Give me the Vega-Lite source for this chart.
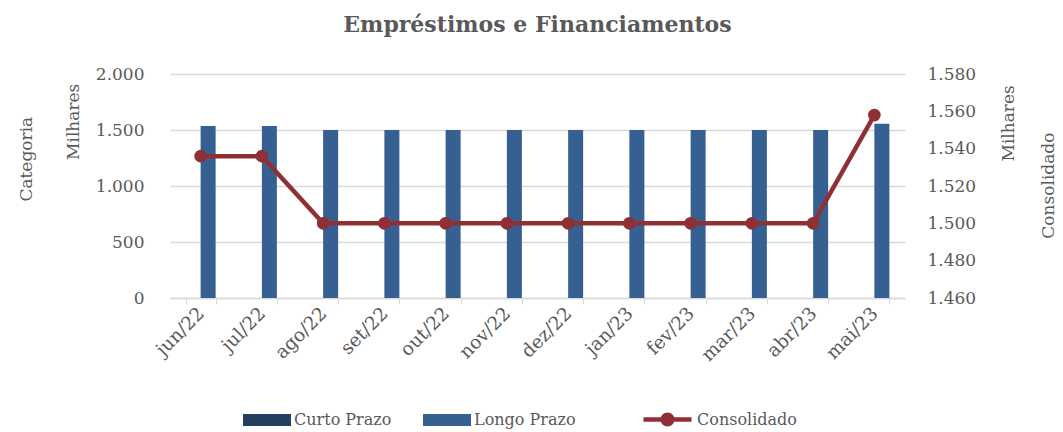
{
  "$schema": "https://vega.github.io/schema/vega-lite/v6.json",
  "autosize": {"type": "none"},
  "width": 735,
  "height": 224,
  "padding": {"left": 170, "top": 74, "right": 158, "bottom": 134},
  "background": "white",
  "config": {
    "locale": {"number": {"decimal": ",", "thousands": ".", "grouping": [3], "currency": ["R$", ""]}},
    "font": "DejaVu Serif",
    "view": {"stroke": null},
    "axis": {"labelFont": "DejaVu Serif", "titleFont": "DejaVu Serif", "labelColor": "#595959", "titleColor": "#595959", "labelFontSize": 17, "titleFontSize": 17, "titleFontWeight": "normal"},
    "legend": {"labelFont": "DejaVu Serif", "labelColor": "#595959", "labelFontSize": 16}
  },
  "title": {"text": "Empréstimos e Financiamentos", "font": "DejaVu Serif", "fontSize": 22, "fontWeight": "bold", "color": "#595959", "frame": "group", "anchor": "middle", "offset": 28},
  "data": {"values": [
    {"mes": "jun/22", "serie": "Curto Prazo", "valor": 0},
    {"mes": "jul/22", "serie": "Curto Prazo", "valor": 0},
    {"mes": "ago/22", "serie": "Curto Prazo", "valor": 0},
    {"mes": "set/22", "serie": "Curto Prazo", "valor": 0},
    {"mes": "out/22", "serie": "Curto Prazo", "valor": 0},
    {"mes": "nov/22", "serie": "Curto Prazo", "valor": 0},
    {"mes": "dez/22", "serie": "Curto Prazo", "valor": 0},
    {"mes": "jan/23", "serie": "Curto Prazo", "valor": 0},
    {"mes": "fev/23", "serie": "Curto Prazo", "valor": 0},
    {"mes": "mar/23", "serie": "Curto Prazo", "valor": 0},
    {"mes": "abr/23", "serie": "Curto Prazo", "valor": 0},
    {"mes": "mai/23", "serie": "Curto Prazo", "valor": 0},
    {"mes": "jun/22", "serie": "Longo Prazo", "valor": 1536},
    {"mes": "jul/22", "serie": "Longo Prazo", "valor": 1536},
    {"mes": "ago/22", "serie": "Longo Prazo", "valor": 1500},
    {"mes": "set/22", "serie": "Longo Prazo", "valor": 1500},
    {"mes": "out/22", "serie": "Longo Prazo", "valor": 1500},
    {"mes": "nov/22", "serie": "Longo Prazo", "valor": 1500},
    {"mes": "dez/22", "serie": "Longo Prazo", "valor": 1500},
    {"mes": "jan/23", "serie": "Longo Prazo", "valor": 1500},
    {"mes": "fev/23", "serie": "Longo Prazo", "valor": 1500},
    {"mes": "mar/23", "serie": "Longo Prazo", "valor": 1500},
    {"mes": "abr/23", "serie": "Longo Prazo", "valor": 1500},
    {"mes": "mai/23", "serie": "Longo Prazo", "valor": 1555},
    {"mes": "jun/22", "serie": "Consolidado", "valor": 1536},
    {"mes": "jul/22", "serie": "Consolidado", "valor": 1536},
    {"mes": "ago/22", "serie": "Consolidado", "valor": 1500},
    {"mes": "set/22", "serie": "Consolidado", "valor": 1500},
    {"mes": "out/22", "serie": "Consolidado", "valor": 1500},
    {"mes": "nov/22", "serie": "Consolidado", "valor": 1500},
    {"mes": "dez/22", "serie": "Consolidado", "valor": 1500},
    {"mes": "jan/23", "serie": "Consolidado", "valor": 1500},
    {"mes": "fev/23", "serie": "Consolidado", "valor": 1500},
    {"mes": "mar/23", "serie": "Consolidado", "valor": 1500},
    {"mes": "abr/23", "serie": "Consolidado", "valor": 1500},
    {"mes": "mai/23", "serie": "Consolidado", "valor": 1558}
  ]},
  "encoding": {
    "x": {"field": "mes", "type": "nominal", "sort": null,
      "scale": {"paddingInner": 0.51, "paddingOuter": 0.255},
      "axis": {"title": null, "labelAngle": -45, "labelAlign": "right", "labelBaseline": "middle", "labelPadding": 6, "labelFontSize": 18.5, "tickBand": "extent", "tickSize": 6, "tickColor": "#d9d9d9", "domainColor": "#d9d9d9", "domainWidth": 1.5, "grid": false}}
  },
  "layer": [
    {
      "transform": [{"filter": "datum.serie !== 'Consolidado'"}],
      "mark": {"type": "bar"},
      "encoding": {
        "xOffset": {"field": "serie", "type": "nominal", "sort": ["Curto Prazo", "Longo Prazo"], "scale": {"domain": ["Curto Prazo", "Longo Prazo"], "paddingInner": 0, "paddingOuter": 0}},
        "y": {"field": "valor", "type": "quantitative",
          "scale": {"domain": [0, 2000], "nice": false},
          "axis": {"values": [0, 500, 1000, 1500, 2000], "format": ",d", "title": ["Categoria\u2800\u2800\u2800", "\u2800\u2800\u2800Milhares"], "titleAngle": -90, "titleAlign": "center", "titleBaseline": "top", "titleLineHeight": 47, "titleX": -152, "titleY": 66, "labelPadding": 26, "domain": false, "ticks": false, "grid": true, "gridColor": "#d9d9d9", "gridWidth": 1.5}},
        "fill": {"field": "serie", "type": "nominal",
          "scale": {"domain": ["Curto Prazo", "Longo Prazo"], "range": ["#243F60", "#376092"]},
          "legend": {"title": null, "orient": "none", "direction": "horizontal", "legendX": 73, "legendY": 322, "symbolType": "M-1,-0.25H1V0.25H-1Z", "symbolSize": 2304, "symbolStrokeWidth": 0, "labelOffset": 3, "columnPadding": 31, "padding": 0}}
      }
    },
    {
      "transform": [{"filter": "datum.serie === 'Consolidado'"}],
      "encoding": {
        "y": {"field": "valor", "type": "quantitative",
          "scale": {"domain": [1460, 1580], "nice": false, "zero": false},
          "axis": {"orient": "right", "values": [1460, 1480, 1500, 1520, 1540, 1560, 1580], "format": ",d", "title": ["\u2800\u2800\u2800\u2800\u2800Milhares", "Consolidado\u2800\u2800\u2800\u2800\u2800"], "titleAngle": -90, "titleAlign": "center", "titleBaseline": "top", "titleLineHeight": 40, "titleX": 95, "titleY": 80, "labelPadding": 22, "domain": false, "ticks": false, "grid": false}}
      },
      "layer": [
        {
          "mark": {"type": "line", "strokeWidth": 4.5},
          "encoding": {
            "stroke": {"field": "serie", "type": "nominal",
              "scale": {"domain": ["Consolidado"], "range": ["#8E3034"]},
              "legend": {"title": null, "orient": "none", "direction": "horizontal", "legendX": 471, "legendY": 319, "symbolType": "M-1,0H1M0.2,0A0.2,0.2 0 1,1 -0.2,0A0.2,0.2 0 1,1 0.2,0", "symbolSize": 2304, "symbolStrokeWidth": 4.5, "symbolFillColor": "#8E3034", "labelOffset": 3, "padding": 0}}
          }
        },
        {
          "mark": {"type": "point", "filled": true, "size": 160, "color": "#8E3034", "opacity": 1}
        }
      ]
    }
  ],
  "resolve": {"scale": {"y": "independent"}}
}
